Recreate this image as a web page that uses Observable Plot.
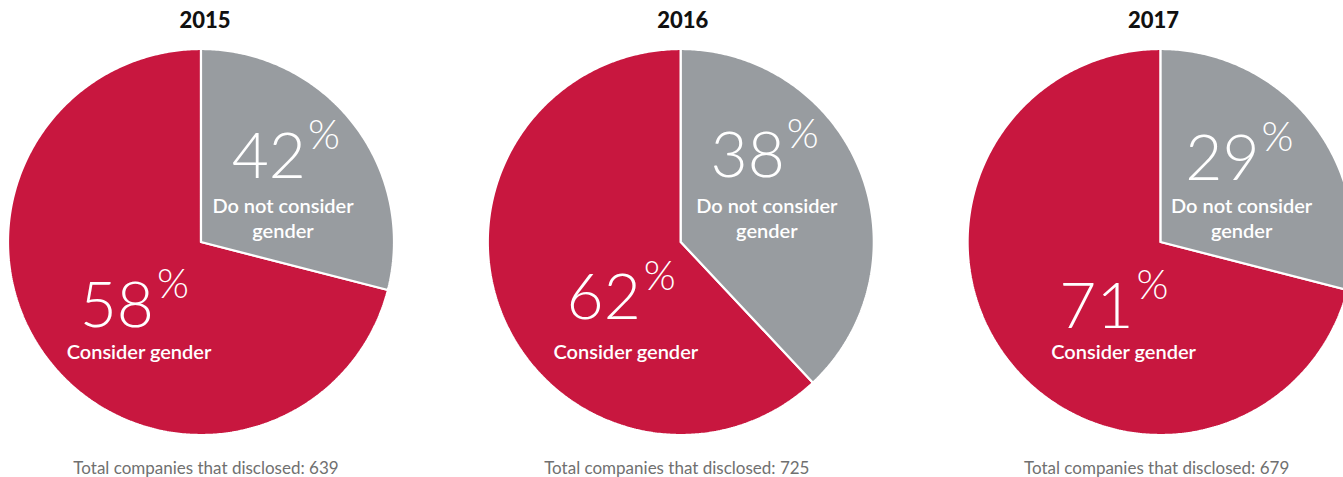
<!DOCTYPE html>
<html>
<head>
<meta charset="utf-8">
<script src="https://cdn.jsdelivr.net/npm/d3@7"></script>
<script src="https://cdn.jsdelivr.net/npm/@observablehq/plot@0.6"></script>
<style>
  html, body { margin: 0; padding: 0; background: #fff; }
  #chart { width: 1343px; height: 477px; overflow: hidden; }
  svg { display: block; }
</style>
</head>
<body>
<div id="chart"></div>
<script>
// ---- data ----
const years = ["2015", "2016", "2017"];
const considerPct = [58, 62, 71];          // labelled "Consider gender"
const notConsiderPct = [42, 38, 29];       // labelled "Do not consider gender"
// grey wedge share as drawn in the reference (2015 wedge is drawn at ~29%)
const greyDrawnShare = [29, 38, 29];
const totals = [639, 725, 679];
const considerLabel = "Consider gender";
const notConsiderLabel = ["Do not consider", "gender"];

// ---- layout (pixels) ----
const W = 1343, H = 477;
const R = 193;               // pie radius in px
const cx0 = 200.5, cy = 241.5, spacing = 479.8;
const RED = "#C8173F", GREY = "#989CA0";
// label offsets relative to each pie center, in px (x right, y down)
const greyNumOffset = [[105, -64], [104, -65], [99, -62]];
const redNumOffset = [[-47, 85], [-40, 77], [-27, 86]];
const greyTextOffset = [[82, -29], [86, -29], [81, -29]];
const redTextOffset = [[-62, 116.5], [-55, 116.5], [-37, 116.5]];
const titleOffset = [4, 2, -7];
const captionOffset = [5, -4, -4];

// unit coordinates: pie i centered at (i*S, 0), radius 1
const S = spacing / R;
const X = px => px / R;

const wedges = [];
years.forEach((yr, i) => {
  const g = greyDrawnShare[i] / 100;
  const slices = [
    {key: yr + "-grey", cls: "grey", a0: 0, a1: g * 2 * Math.PI},
    {key: yr + "-red", cls: "red", a0: g * 2 * Math.PI, a1: 2 * Math.PI}
  ];
  for (const s of slices) {
    wedges.push({key: s.key, cls: s.cls, x: i * S, y: 0});
    const n = Math.max(8, Math.ceil((s.a1 - s.a0) / 0.01));
    for (let k = 0; k <= n; k++) {
      const a = s.a0 + (s.a1 - s.a0) * k / n;
      wedges.push({key: s.key, cls: s.cls, x: i * S + Math.sin(a), y: Math.cos(a)});
    }
    wedges.push({key: s.key, cls: s.cls, x: i * S, y: 0});
  }
});

const labels = years.map((yr, i) => ({i, yr}));
const px = (i, off) => i * S + X(off[0]);
const py = (off) => -X(off[1]);

const numFont = "Lato";
const plot = Plot.plot({
  width: W,
  height: H,
  margin: 0,
  style: {background: "transparent", overflow: "visible"},
  x: {domain: [-cx0 / R, (W - cx0) / R], range: [0, W], axis: null},
  y: {domain: [-(H - cy) / R, cy / R], range: [H, 0], axis: null},
  marks: [
    Plot.line(wedges.filter(d => d.cls === "red"), {x: "x", y: "y", z: "key", fill: RED, stroke: "#fff", strokeWidth: 2.2, strokeLinejoin: "miter", curve: "linear"}),
    Plot.line(wedges.filter(d => d.cls === "grey"), {x: "x", y: "y", z: "key", fill: GREY, stroke: "#fff", strokeWidth: 2.2, strokeLinejoin: "miter", curve: "linear"}),
    // year titles
    Plot.text(labels, {x: d => d.i * S + X(titleOffset[d.i]), y: X(cy - 27), text: "yr", lineAnchor: "bottom", textAnchor: "middle", fontFamily: "Lato", fontWeight: 900, fontSize: 22, fill: "#111"}),
    // big grey numbers
    Plot.text(labels, {x: d => px(d.i, greyNumOffset[d.i]), y: d => py([0, greyNumOffset[d.i][1]]), text: d => String(notConsiderPct[d.i]), lineAnchor: "bottom", textAnchor: "end", fontFamily: numFont, fontWeight: 300, fontSize: 64, fill: "#fff"}),
    Plot.text(labels, {x: d => px(d.i, greyNumOffset[d.i]), y: d => py([0, greyNumOffset[d.i][1] - 29]), text: d => "%", dx: 2, lineAnchor: "bottom", textAnchor: "start", fontFamily: numFont, fontWeight: 300, fontSize: 41, fill: "#fff"}),
    // big red numbers
    Plot.text(labels, {x: d => px(d.i, redNumOffset[d.i]), y: d => py([0, redNumOffset[d.i][1]]), text: d => String(considerPct[d.i]), lineAnchor: "bottom", textAnchor: "end", fontFamily: numFont, fontWeight: 300, fontSize: 64, fill: "#fff"}),
    Plot.text(labels, {x: d => px(d.i, redNumOffset[d.i]), y: d => py([0, redNumOffset[d.i][1] - 29]), text: d => "%", dx: 3, lineAnchor: "bottom", textAnchor: "start", fontFamily: numFont, fontWeight: 300, fontSize: 41, fill: "#fff"}),
    // grey category text (two lines)
    Plot.text(labels, {x: d => px(d.i, greyTextOffset[d.i]), y: d => py(greyTextOffset[d.i]), text: d => notConsiderLabel[0], lineAnchor: "bottom", textAnchor: "middle", fontFamily: "Lato", fontWeight: 600, fontSize: 20, fill: "#fff"}),
    Plot.text(labels, {x: d => px(d.i, greyTextOffset[d.i]), y: d => py([0, greyTextOffset[d.i][1] + 25]), text: d => notConsiderLabel[1], lineAnchor: "bottom", textAnchor: "middle", fontFamily: "Lato", fontWeight: 600, fontSize: 20, fill: "#fff"}),
    // red category text
    Plot.text(labels, {x: d => px(d.i, redTextOffset[d.i]), y: d => py(redTextOffset[d.i]), text: d => considerLabel, lineAnchor: "bottom", textAnchor: "middle", fontFamily: "Lato", fontWeight: 600, fontSize: 20, fill: "#fff"}),
    // captions
    Plot.text(labels, {x: d => d.i * S + X(captionOffset[d.i]), y: -X(473 - cy), text: d => "Total companies that disclosed: " + totals[d.i], lineAnchor: "bottom", textAnchor: "middle", fontFamily: "Lato", fontWeight: 400, fontSize: 17, fill: "#707070"})
  ]
});
document.getElementById("chart").appendChild(plot);
</script>
</body>
</html>
